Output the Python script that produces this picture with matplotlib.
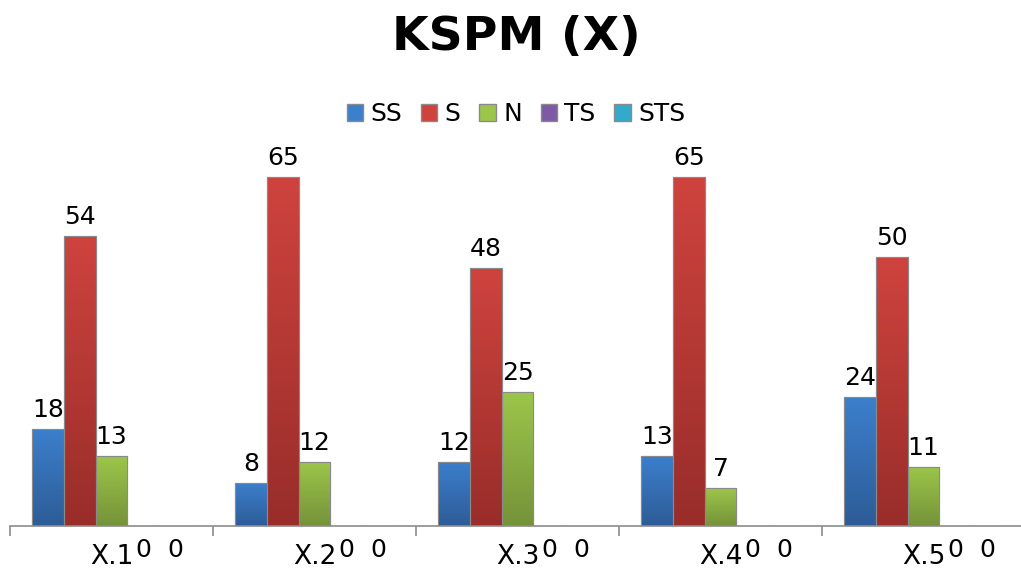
import matplotlib
matplotlib.use("Agg")
import matplotlib.pyplot as plt
import numpy as np
from matplotlib.patches import Patch

categories = ["X.1", "X.2", "X.3", "X.4", "X.5"]
series = ["SS", "S", "N", "TS", "STS"]
ss = [18, 8, 12, 13, 24]
s = [54, 65, 48, 65, 50]
n = [13, 12, 25, 7, 11]
ts = [0, 0, 0, 0, 0]
sts = [0, 0, 0, 0, 0]
values = [ss, s, n, ts, sts]

# (top colour, bottom colour) for the vertical gradient
colors = [("#3c7fcc", "#2d5c97"), ("#cf433e", "#982d2a"), ("#9cc64a", "#75923a"),
          ("#7d5aa3", "#5c4079"), ("#33aacb", "#25809a")]

plt.rcParams["font.family"] = "DejaVu Sans"

fig = plt.figure(figsize=(10.21, 5.73), dpi=100)
W, H = 1021, 573
ax = fig.add_axes([10 / W, 1 - 526 / H, 1015 / W, (526 - 150) / H])

bw = 0.156
x = np.arange(len(categories))
grad = np.linspace(0, 1, 256).reshape(-1, 1)

for j, (name, vals) in enumerate(zip(series, values)):
    pos = x + 0.5 + (j - 2) * bw
    top, bottom = colors[j]
    bars = ax.bar(pos, vals, width=bw, color=top, edgecolor="#8a8a8a",
                  linewidth=0.8, zorder=2)
    cmap = matplotlib.colors.LinearSegmentedColormap.from_list(name, [bottom, top])
    for b in bars:
        if b.get_height() <= 0:
            continue
        x0, y0 = b.get_x(), b.get_y()
        im = ax.imshow(grad, extent=[x0, x0 + b.get_width(), y0, y0 + b.get_height()],
                       origin="lower", cmap=cmap, aspect="auto", zorder=2.5)
        im.set_clip_path(b)
        ax.bar(b.get_x() + bw / 2, b.get_height(), width=bw, fill=False,
               edgecolor="#8a8a8a", linewidth=0.8, zorder=3)
    for px, v in zip(pos, vals):
        if v > 0:
            ax.annotate(str(v), (px, v), xytext=(0, 5), textcoords="offset points",
                        ha="center", va="bottom", fontsize=18)
        else:
            ax.annotate(str(v), (px, v), xytext=(0, -17), textcoords="offset points",
                        ha="center", va="center", fontsize=18, annotation_clip=False)

ax.set_xlim(0, 5)
ax.set_ylim(0, 70)
ax.autoscale(False)
for sp in ["top", "right", "left"]:
    ax.spines[sp].set_visible(False)
ax.spines["bottom"].set_color("#8c8c8c")
ax.spines["bottom"].set_linewidth(1.2)
ax.set_yticks([])
ax.set_xticks(np.arange(0, 6))
ax.set_xticklabels([])
ax.tick_params(axis="x", which="major", length=7, color="#8c8c8c", width=1.2)
ax.set_xticks(x + 0.5, minor=True)
ax.set_xticklabels(categories, minor=True, fontsize=19)
ax.tick_params(axis="x", which="minor", length=0, pad=13)

fig.text(516 / W, 1 - 37 / H, "KSPM (X)", ha="center", va="center",
         fontsize=34, fontweight="bold")

handles = [Patch(facecolor=c[0], edgecolor="#8a8a8a") for c in colors]
fig.legend(handles, series, loc="center", bbox_to_anchor=(516 / W, 1 - 114 / H),
           ncol=5, frameon=False, fontsize=18, handlelength=0.65, handleheight=0.65,
           handletextpad=0.3, columnspacing=0.75)

fig.savefig("out.png", dpi=100)
